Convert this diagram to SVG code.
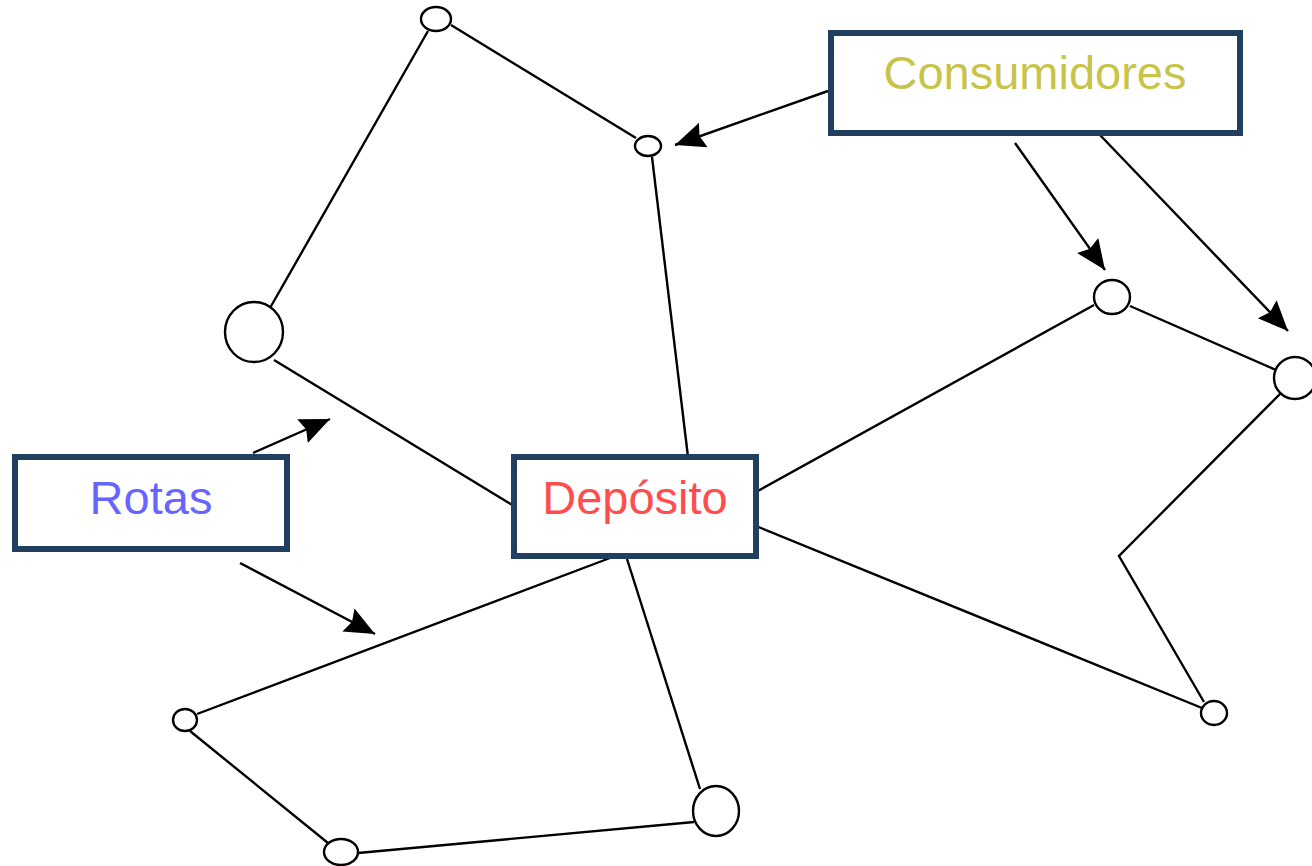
<svg xmlns="http://www.w3.org/2000/svg" width="1312" height="866" viewBox="0 0 1312 866">
<defs>
<style>
.edge{stroke:#000;stroke-width:2.4;fill:none}
.arr{stroke:#000;stroke-width:2.4;fill:none;marker-end:url(#ah)}
.node{fill:#fff;stroke:#000;stroke-width:2.4}
.box{fill:#fff;stroke:#213f5f;stroke-width:6}
.lbl{font-family:"Liberation Sans",Arial,sans-serif;font-size:47px;text-anchor:middle}
</style>
<marker id="ah" markerUnits="userSpaceOnUse" markerWidth="32" markerHeight="30" viewBox="0 0 32 30" refX="30" refY="15" orient="auto">
<path d="M0,2 L30,15 L0,28 L4,15 z" fill="#000"/>
</marker>
</defs>
<rect width="1312" height="866" fill="#fff"/>
<g id="connectors">
<line class="edge" x1="451" y1="25" x2="636" y2="138"/>
<line class="edge" x1="428" y1="31" x2="270" y2="308"/>
<line class="edge" x1="274" y1="360" x2="514" y2="506"/>
<line class="edge" x1="652" y1="157" x2="688" y2="457"/>
<line class="edge" x1="756" y1="492" x2="1094" y2="305"/>
<line class="edge" x1="1130" y1="306" x2="1276" y2="370"/>
<polyline class="edge" points="1282,392 1119,556 1204,702"/>
<line class="edge" x1="756" y1="526" x2="1202" y2="708"/>
<line class="edge" x1="610" y1="558" x2="197" y2="714"/>
<line class="edge" x1="190" y1="731" x2="328" y2="843"/>
<line class="edge" x1="358" y1="853" x2="694" y2="822"/>
<line class="edge" x1="700" y1="789" x2="627" y2="559"/>
<line class="arr" x1="828" y1="91" x2="675" y2="145"/>
<line class="arr" x1="1015" y1="143" x2="1105" y2="270"/>
<line class="arr" x1="1100" y1="135" x2="1288" y2="331"/>
<line class="arr" x1="253" y1="453" x2="330" y2="419"/>
<line class="arr" x1="240" y1="563" x2="375" y2="634"/>
</g>
<g id="n1"><ellipse class="node" cx="436" cy="19" rx="15" ry="12"/></g>
<g id="n2"><ellipse class="node" cx="648" cy="146" rx="13" ry="10"/></g>
<g id="n3"><ellipse class="node" cx="254" cy="332" rx="29" ry="30"/></g>
<g id="n4"><ellipse class="node" cx="1112" cy="297" rx="18" ry="17"/></g>
<g id="n5"><ellipse class="node" cx="1295" cy="378" rx="21" ry="21"/></g>
<g id="n6"><ellipse class="node" cx="1214" cy="713" rx="13" ry="12"/></g>
<g id="n7"><ellipse class="node" cx="185" cy="720" rx="12" ry="11"/></g>
<g id="n8"><ellipse class="node" cx="341" cy="852" rx="17" ry="13"/></g>
<g id="n9"><ellipse class="node" cx="716" cy="811" rx="23" ry="25"/></g>
<g id="consumidores">
<rect class="box" x="831" y="33" width="409" height="100"/>
<text class="lbl" x="1035" y="89" fill="#c8c44a">Consumidores</text>
</g>
<g id="rotas">
<rect class="box" x="15" y="457" width="272" height="92"/>
<text class="lbl" x="151" y="514" fill="#6666ff">Rotas</text>
</g>
<g id="deposito">
<rect class="box" x="514" y="457" width="242" height="99"/>
<text class="lbl" x="635" y="514" fill="#ff4d4d">Depósito</text>
</g>
</svg>
